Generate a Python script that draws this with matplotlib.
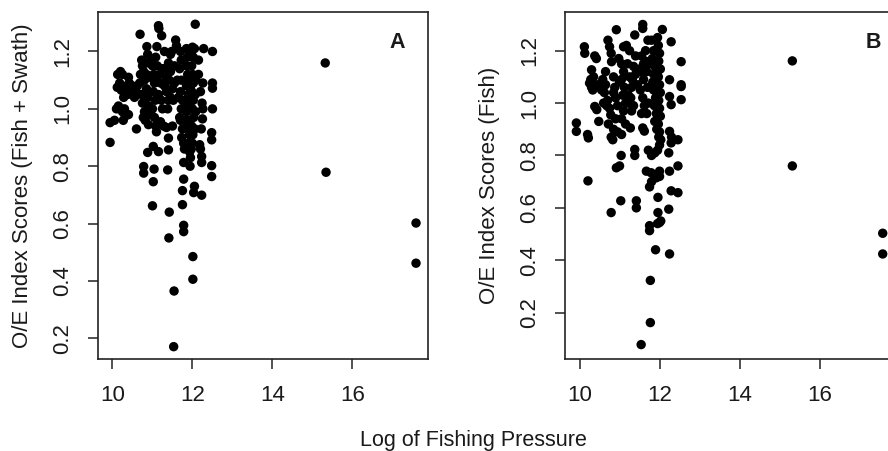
import matplotlib
matplotlib.use('Agg')
import matplotlib.pyplot as plt

plt.rcParams['font.family'] = ['Liberation Sans', 'DejaVu Sans']

# Panel A: O/E (Fish + Swath) vs log fishing pressure
a_x = [9.94, 9.94, 10.05, 10.1, 10.12, 10.13, 10.2, 10.25, 10.18, 10.22, 10.25, 10.27, 10.3, 10.32,
       10.35, 10.38, 10.4, 10.42, 10.45, 10.5, 10.55, 10.6, 10.62, 10.28, 10.15,
       10.69, 10.73, 10.75, 10.7, 10.78, 10.8, 10.72, 10.75, 10.8, 10.82, 10.77, 10.86, 10.88, 10.9,
       10.85, 10.88, 10.92, 10.95, 10.9, 10.88, 10.78, 10.78, 10.68, 10.85,
       11.0, 11.02, 11.04, 11.02, 11.15, 11.0, 11.03, 11.05, 11.02, 11.07, 11.0, 11.05, 11.08, 11.1,
       11.11, 11.15, 11.16, 11.23, 11.12, 11.18, 11.2, 11.15, 11.22, 11.25, 11.2, 11.28, 11.1, 11.25,
       11.38, 11.41, 11.42, 11.4, 11.4, 11.35, 11.38, 11.4, 11.35, 11.42, 11.45, 11.4, 11.45, 11.48,
       11.35, 11.5, 11.52, 11.5, 11.58, 11.6, 11.55, 11.53, 11.54, 11.3, 11.32,
       11.7, 11.72, 11.68, 11.72, 11.7, 11.75, 11.72, 11.7, 11.75, 11.73, 11.78, 11.8, 11.78, 11.78,
       11.75, 11.75, 11.78, 11.78, 11.85, 11.87, 11.85, 11.88, 11.85, 11.9, 11.88, 11.85, 11.9, 11.87,
       11.92, 11.9, 11.93, 11.94, 11.95, 11.97, 12.0, 12.02, 11.98, 12.0, 12.02, 11.98, 12.02, 12.0,
       12.03, 11.98, 12.01, 12.0, 11.97, 12.03, 12.05, 12.01, 12.01, 12.07, 12.05, 12.08, 12.07, 12.08,
       12.06, 11.82, 11.8, 11.95, 11.93, 11.92,
       12.23, 12.23, 12.23, 12.2, 12.18, 12.22, 12.25, 12.26, 12.24, 12.26, 12.28, 12.2, 12.5, 12.48,
       12.48, 12.48, 12.48, 12.5, 12.5, 12.5, 12.15, 12.15,
       10.48, 10.58, 10.95, 10.98, 11.3, 11.45, 11.62, 11.65, 11.68, 11.95, 11.93, 11.08, 10.4, 11.55,
       15.32, 15.34, 17.59, 17.59]
a_y = [0.883, 0.952, 0.96, 1.0, 1.075, 1.12, 1.13, 1.12, 1.09, 1.065, 0.99, 0.96, 1.0, 0.975,
       1.08, 1.05, 0.98, 1.09, 1.06, 1.08, 1.04, 0.93, 1.08, 1.04, 1.01,
       1.26, 1.17, 1.15, 1.12, 1.13, 1.1, 1.05, 1.02, 0.99, 0.96, 0.97, 1.217, 1.19, 1.16,
       1.07, 1.04, 1.01, 0.98, 0.945, 0.848, 0.776, 0.799, 1.09, 1.12,
       0.662, 0.746, 0.79, 0.869, 0.851, 1.15, 1.12, 1.09, 1.06, 1.03, 1.0, 0.97, 0.94, 0.92,
       1.217, 1.29, 1.28, 1.255, 1.15, 1.12, 1.09, 1.05, 1.03, 1.0, 0.955, 0.94, 1.1, 1.14,
       0.787, 0.55, 0.64, 0.857, 0.898, 0.935, 1.0, 1.03, 1.06, 1.1, 1.13, 1.16, 1.19, 1.2,
       1.11, 1.07, 1.03, 0.94, 1.24, 1.22, 1.15, 0.171, 0.365, 1.2, 1.14,
       1.2, 1.17, 1.14, 1.1, 1.06, 1.03, 1.0, 0.96, 0.93, 0.9, 0.88, 0.86, 0.813, 0.755,
       0.715, 0.666, 0.594, 0.572, 1.21, 1.18, 1.15, 1.12, 1.08, 1.05, 1.02, 0.99, 0.96, 0.94,
       0.91, 0.88, 0.85, 0.8, 0.83, 1.19, 1.215, 1.18, 1.15, 1.12, 1.09, 1.06, 1.03, 1.0,
       0.97, 0.94, 0.91, 0.88, 0.86, 0.708, 0.73, 0.485, 0.406, 1.295, 1.21, 1.1, 1.05, 0.99,
       0.93, 1.0, 0.96, 1.0, 1.03, 1.1,
       0.699, 0.813, 0.834, 0.86, 0.875, 0.93, 0.965, 1.0, 1.02, 1.09, 1.21, 1.06, 1.2, 0.764,
       0.802, 0.892, 0.917, 1.0, 1.072, 1.09, 1.12, 1.17,
       1.07, 1.06, 1.11, 1.17, 1.08, 1.04, 1.1, 1.04, 0.97, 1.07, 0.93, 1.18, 1.11, 1.09,
       1.16, 0.779, 0.602, 0.462]

# Panel B: O/E (Fish) vs log fishing pressure
b_x = [9.92, 9.92, 10.12, 10.13, 10.2, 10.22, 10.21, 10.38, 10.42, 10.3, 10.28, 10.25, 10.33, 10.38,
       10.43, 10.48, 10.35, 10.3, 10.45,
       10.92, 10.71, 10.75, 10.79, 10.8, 10.58, 10.65, 10.62, 10.7, 10.75, 10.78, 10.72, 10.79, 10.83,
       10.79, 10.92, 11.0, 11.04, 10.65, 10.85, 10.88, 10.9, 10.95, 10.9, 10.95, 10.68, 10.85,
       11.03, 11.1, 11.17, 11.25, 11.38, 11.05, 11.1, 11.05, 11.12, 11.08, 11.15, 11.1, 11.05, 11.15,
       11.27, 11.42, 11.42, 11.38, 11.38, 11.2, 11.25, 11.3, 11.28, 11.35, 11.4, 11.4, 11.35, 11.3, 11.22,
       11.54, 11.58, 11.58, 11.58, 11.62, 11.71, 11.55, 11.6, 11.55, 11.6, 11.52, 11.58, 11.62, 11.55,
       11.65, 11.68, 11.77, 11.77, 11.75, 11.75, 11.75, 11.67, 11.72, 11.7, 11.72, 11.68,
       11.8, 11.85, 11.82, 11.88, 11.85, 11.9, 11.85, 11.9, 11.87, 11.92, 11.88, 11.93, 11.95, 11.97,
       12.0, 11.98, 12.02, 11.97, 12.0, 12.02, 11.98, 12.0, 12.02, 11.97, 12.0, 12.07, 11.9, 11.96,
       11.96, 12.0, 12.03, 11.95, 11.8, 11.92, 12.0, 11.79, 11.88, 12.0, 11.8, 11.88, 11.95, 12.0,
       12.03, 11.98, 11.83, 11.93, 11.9,
       12.25, 12.23, 12.46, 12.46, 12.29, 12.25, 12.23, 12.46, 12.25, 12.29, 12.54, 12.54, 12.54, 12.54,
       12.29, 12.25, 12.25, 12.29, 12.3,
       10.55, 10.6, 10.85, 11.0, 11.2, 11.32, 11.45, 11.5, 11.65, 11.75, 11.95, 11.05, 10.98,
       15.32, 15.32, 17.58, 17.58]
b_y = [0.924, 0.892, 1.215, 1.19, 0.88, 0.867, 0.703, 1.18, 1.17, 1.127, 1.09, 1.076, 1.05, 0.987,
       0.975, 0.93, 1.1, 1.06, 1.07,
       1.28, 1.24, 1.215, 1.19, 1.158, 1.09, 1.07, 1.04, 1.01, 0.98, 0.955, 0.92, 0.87, 0.86,
       0.582, 0.753, 0.76, 0.8, 1.12, 1.1, 1.06, 1.02, 0.99, 0.94, 0.89, 0.99, 0.9,
       0.627, 1.215, 1.22, 1.2, 1.26, 1.15, 1.12, 1.09, 1.06, 1.03, 1.0, 0.97, 0.94, 0.92,
       0.905, 0.627, 0.6, 0.823, 0.8, 1.15, 1.1, 1.06, 1.02, 0.99, 1.11, 1.18, 1.14, 0.97, 1.03,
       0.078, 1.3, 1.285, 0.905, 0.893, 1.24, 1.18, 1.15, 1.12, 1.09, 1.05, 1.02, 0.99, 0.96,
       1.2, 1.12, 0.323, 0.162, 0.532, 0.513, 0.68, 0.74, 0.82, 1.06, 1.0, 0.96,
       1.24, 1.2, 1.17, 1.14, 1.11, 1.08, 1.05, 1.02, 0.99, 0.96, 0.93, 0.9, 1.25, 1.22,
       1.19, 1.16, 1.13, 1.1, 1.07, 1.04, 1.01, 0.98, 0.95, 0.92, 0.89, 1.281, 0.44, 0.64,
       0.582, 0.544, 0.55, 0.54, 0.7, 0.715, 0.72, 0.734, 0.715, 0.74, 0.8, 0.81, 0.82, 0.84,
       0.86, 0.87, 1.08, 1.04, 1.16,
       0.424, 0.595, 0.658, 0.76, 0.665, 0.74, 0.81, 0.86, 0.892, 0.848, 1.158, 1.07, 1.063, 1.013,
       1.234, 1.089, 1.025, 0.994, 0.87,
       1.05, 1.0, 1.04, 1.08, 1.0, 1.09, 1.07, 1.13, 1.16, 1.15, 1.12, 0.88, 1.17,
       1.161, 0.76, 0.503, 0.424]

x_ticks = [10, 12, 14, 16]
y_ticks = [0.2, 0.4, 0.6, 0.8, 1.0, 1.2]
txt = '#1a1a1a'

fig = plt.figure(figsize=(8.88, 4.51), dpi=100)
ax1 = fig.add_axes([0.110, 0.204, 0.372, 0.769])
ax2 = fig.add_axes([0.636, 0.204, 0.372, 0.769])

panels = [(ax1, a_x, a_y, (0.128, 1.337), 'O/E Index Scores (Fish + Swath)', 'A', 0.447),
          (ax2, b_x, b_y, (0.023, 1.347), 'O/E Index Scores (Fish)', 'B', 0.983)]

for ax, xs, ys, ylim, ylab, letter, lx in panels:
    ax.scatter(xs, ys, s=46, color='black', edgecolors='none')
    ax.set_xlim(9.63, 17.89)
    ax.set_ylim(*ylim)
    ax.set_xticks(x_ticks)
    ax.set_xticklabels([str(t) for t in x_ticks])
    ax.set_yticks(y_ticks)
    ax.set_yticklabels(['%.1f' % t for t in y_ticks], rotation=90, va='center')
    ax.tick_params(direction='out', length=7.5, width=1.1, labelsize=16,
                   colors='#222222', labelcolor=txt, pad=10)
    ax.tick_params(axis='x', pad=11)
    for sp in ax.spines.values():
        sp.set_linewidth(1.2)
        sp.set_color('#222222')
    ax.set_ylabel(ylab, fontsize=16, color=txt, labelpad=14)
    fig.text(lx, 0.905, letter, fontsize=15.5, fontweight='bold', color=txt,
             ha='center', va='center')

fig.text(0.533, 0.024, 'Log of Fishing Pressure', fontsize=15.5, color=txt,
         ha='center', va='center')

fig.savefig('out.png', dpi=100)
